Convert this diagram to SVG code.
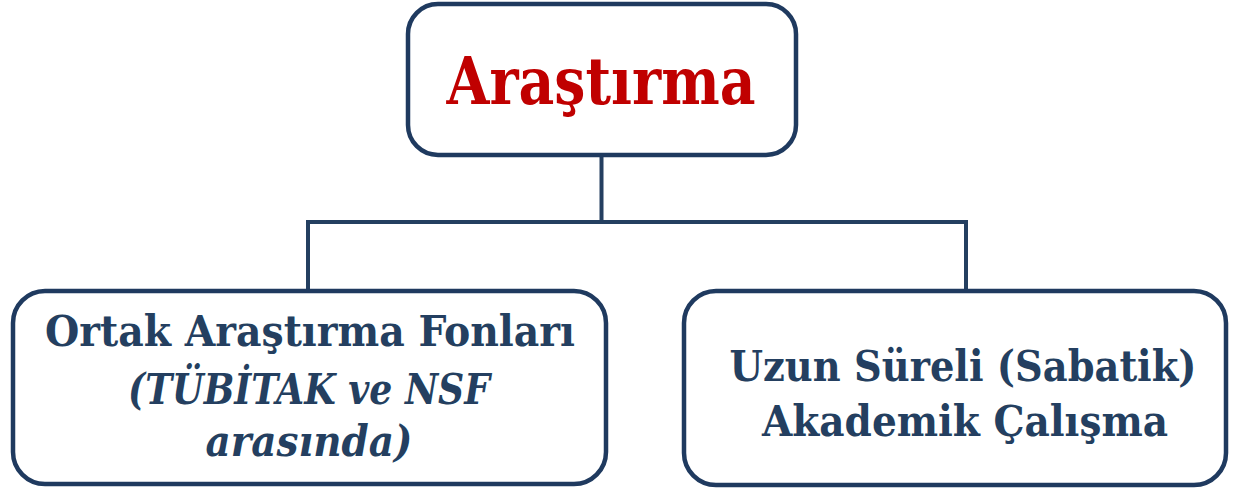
<svg xmlns="http://www.w3.org/2000/svg" width="1233" height="491" viewBox="0 0 1233 491">
<style>
.box{fill:#ffffff;stroke:#1f3a5f;stroke-width:4.5}
.conn{fill:none;stroke:#243f60;stroke-width:4}
.t{font-family:"DejaVu Serif Condensed","DejaVu Serif","Liberation Serif",serif;font-weight:bold;fill:#243f60;text-anchor:middle}
.i{font-style:italic}
.title{font-family:"DejaVu Serif Condensed","DejaVu Serif","Liberation Serif",serif;font-weight:bold;fill:#c00000;text-anchor:middle}
</style>
<rect width="1233" height="491" fill="#ffffff"/>
<g id="connectors">
<path class="conn" d="M601.5 156 V222 M308 290 V222 H966 V290"/>
</g>
<g id="node-arastirma">
<rect class="box" x="408" y="4" width="388" height="151" rx="30"/>
<text class="title" x="601" y="104" font-size="66" textLength="309" lengthAdjust="spacingAndGlyphs">Araştırma</text>
</g>
<g id="node-ortak">
<rect class="box" x="13" y="291" width="593" height="193" rx="32"/>
<text class="t" x="310" y="346" font-size="43" textLength="530" lengthAdjust="spacingAndGlyphs">Ortak Araştırma Fonları</text>
<text class="t i" x="309" y="404" font-size="43" textLength="362" lengthAdjust="spacingAndGlyphs">(TÜBİTAK ve NSF</text>
<text class="t i" x="309" y="456" font-size="43" textLength="207" lengthAdjust="spacingAndGlyphs">arasında)</text>
</g>
<g id="node-uzun">
<rect class="box" x="684" y="291" width="542" height="194" rx="32"/>
<text class="t" x="963" y="381" font-size="43" textLength="467" lengthAdjust="spacingAndGlyphs">Uzun Süreli (Sabatik)</text>
<text class="t" x="965" y="436" font-size="43" textLength="406" lengthAdjust="spacingAndGlyphs">Akademik Çalışma</text>
</g>
</svg>
